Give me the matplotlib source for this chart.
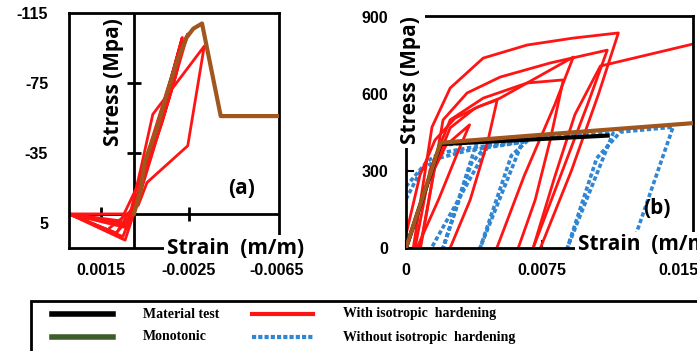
import matplotlib.pyplot as plt
from matplotlib.lines import Line2D
from matplotlib.patches import Rectangle

# ---- panel (a): compression side ----
mono_a_strain = [0, -0.0003, -0.0005, -0.00105, -0.0015, -0.00195, -0.0024, -0.0027, -0.0031, -0.00395, -0.0066]
mono_a_stress = [0, -13, -30, -49, -69, -87, -101, -106, -109, -56, -56]

red_a = [
    ([0.00295, 0, -0.0003, -0.0007, -0.0013, -0.0019, -0.0022, -0.00245, -0.0019, -0.0012, -0.0006, -0.0002, 0.0004, 0.00295],
     [0, 0, -13, -31, -53, -79, -97, -103, -79, -50, -28, -8, 15, 0]),
    ([0.00295, 0.0008, 0.0002, -0.0004, -0.001, -0.0016, -0.0022, -0.0017, -0.0009, -0.0003, 0.0003, 0.00295],
     [0, 11, 2, -20, -45, -73, -99, -70, -38, -14, 8, 0]),
    ([0.0011, -0.0002, -0.0006, -0.00245, -0.0032, -0.00086, -0.0003, 0.0003, 0.00295],
     [8, -5, -18, -39, -96, -57, -25, 7, 0]),
    ([0.00295, 0.0005, 0.0001, -0.0005, -0.0011, -0.0017, -0.0022, -0.0007, -0.0001, 0.0008, 0.00295],
     [0, 13, 0, -25, -50, -78, -101, -32, -7, 11, 0]),
    ([0.00295, 0.0003, -0.0002, -0.0008, -0.0014, -0.002, -0.0013, -0.0008, -0.0002, 0.0006, 0.00295],
     [0, 6, -8, -33, -58, -90, -62, -42, -17, 4, 0]),
]
a_yticks = [-115, -75, -35, 5]
a_xticks = [0.0015, -0.0025, -0.0065]
a_xticklabels = ['0.0015', '-0.0025', '-0.0065']

# ---- panel (b): tension side ----
mono_b_strain = [0, 0.0019, 0.0085, 0.0159]
mono_b_stress = [0, 410, 447, 487]
test_b_strain = [0, 0.0019, 0.0111]
test_b_stress = [0, 405, 438]

red_b = [
    ([0, 0.0011, 0.0022, 0.0035, 0.0029, 0.0018, 0.0006], [0, 240, 400, 480, 382, 190, 0]),
    ([0.00006, 0.00077, 0.0016, 0.0027, 0.00408, 0.00502, 0.00452, 0.00353, 0.00243],
     [70, 284, 421, 506, 553, 577, 421, 187, 0]),
    ([0.0005, 0.00132, 0.00243, 0.00425, 0.00667, 0.00866, 0.00794, 0.00711, 0.00618],
     [0, 304, 499, 584, 643, 655, 421, 187, 0]),
    ([0.00077, 0.0016, 0.00243, 0.0038, 0.00518, 0.00921, 0.0082, 0.0065, 0.005],
     [0, 323, 468, 545, 584, 744, 560, 280, 0]),
    ([0.0008, 0.00204, 0.00336, 0.00518, 0.00794, 0.01108, 0.01, 0.0085, 0.007],
     [0, 499, 604, 666, 721, 771, 560, 280, 0]),
    ([0.0004, 0.00143, 0.00243, 0.00425, 0.00667, 0.00921, 0.01169, 0.0106, 0.0091, 0.0074],
     [0, 471, 623, 740, 791, 818, 838, 600, 300, 0]),
    ([0.007, 0.0082, 0.0093, 0.0107, 0.01605], [0, 280, 520, 709, 799]),
]
blue_b = [
    ([0, 0.0019, 0.0039, 0.00204, 0.0036, 0.0045, 0.00645, 0.00408, 0.0058, 0.0068, 0.0114,
      0.00888, 0.0105, 0.0118, 0.0147, 0.0124],
     [0, 400, 413, 0, 330, 405, 421, 0, 360, 425, 448, 0, 350, 452, 471, 0]),
    ([0, 0.0008, 0.0018, 0.0034, 0.0065], [190, 300, 350, 380, 413]),
    ([0, 0.0012, 0.0019, 0.0034, 0.0065], [240, 340, 370, 390, 413]),
    ([0.0045, 0.0029, 0.0014], [395, 190, 0]),
]
b_yticks = [0, 300, 600, 900]
b_xticks = [0, 0.0075, 0.015]
b_xticklabels = ['0', '0.0075', '0.015']

RED = '#ff1414'
BLUE = '#3186d2'
BROWN = '#a0561c'
GREEN = '#3d5e2a'
lab_font = dict(family='Open Sans', weight='bold', size=15)
tick_font = dict(family='Liberation Sans', weight='bold', size=11.5)

fig = plt.figure(figsize=(6.97, 3.51), dpi=100)

# panel (a)
axa = fig.add_axes([69 / 697, 1 - 248 / 351, 210 / 697, 235 / 351])
axa.axhline(0, color='black', lw=2, zorder=1)
axa.axvline(0, color='black', lw=2, zorder=1)
for xs, ys in red_a:
    axa.plot(xs, ys, color=RED, lw=2, zorder=2)
axa.plot(mono_a_strain, mono_a_stress, color=BROWN, lw=3, zorder=3)
axa.plot(a_xticks[:2], [0, 0], ls='none', marker='|', ms=10, mew=2, color='black', zorder=1)
axa.plot([0, 0], a_yticks[1:3], ls='none', marker='_', ms=10, mew=2, color='black', zorder=1)
axa.set_xlim(0.00295, -0.0066)
axa.set_ylim(19.5, -115)
axa.set_yticks(a_yticks)
axa.set_yticklabels([str(v) for v in a_yticks], **tick_font)
axa.set_xticks(a_xticks)
axa.set_xticklabels(a_xticklabels, **tick_font)
axa.tick_params(length=0)
axa.tick_params(axis='y', pad=15)
axa.tick_params(axis='x', pad=11)
for s in axa.spines.values():
    s.set_linewidth(2)
axa.text(0.21, 0.706, 'Stress (Mpa)', rotation=90, ha='center', va='center', transform=axa.transAxes,
         bbox=dict(fc='white', ec='none', pad=1), zorder=5, **lab_font)
axa.text(0.467, 0.0, 'Strain  (m/m)', ha='left', va='center', transform=axa.transAxes,
         bbox=dict(fc='white', ec='none', pad=2), zorder=5, clip_on=False, **lab_font)
axa.text(0.824, 0.255, '(a)', ha='center', va='center', transform=axa.transAxes, **lab_font)

# panel (b)
axb = fig.add_axes([406 / 697, 1 - 248 / 351, 287 / 697, 232 / 351])
for xs, ys in blue_b:
    axb.plot(xs, ys, color=BLUE, lw=2.6, ls=(0, (1.2, 0.7)), zorder=1)
for xs, ys in red_b:
    axb.plot(xs, ys, color=RED, lw=2, zorder=2)
axb.plot(test_b_strain, test_b_stress, color='black', lw=3, zorder=3)
axb.plot(mono_b_strain, mono_b_stress, color=BROWN, lw=3, zorder=4)
axb.set_xlim(0, 0.0158)
axb.set_ylim(0, 904)
axb.set_yticks(b_yticks)
axb.set_yticklabels([str(v) for v in b_yticks], **tick_font)
axb.set_xticks(b_xticks)
axb.set_xticklabels(b_xticklabels, **tick_font)
axb.tick_params(direction='in', length=6, width=1.5)
axb.tick_params(axis='y', pad=13)
axb.tick_params(axis='x', pad=11)
for s in axb.spines.values():
    s.set_linewidth(2)
axb.text(0.014, 0.724, 'Stress (Mpa)', rotation=90, ha='center', va='center', transform=axb.transAxes,
         bbox=dict(fc='white', ec='none', pad=3), zorder=5, clip_on=False, **lab_font)
axb.text(0.599, 0.013, 'Strain  (m/m)', ha='left', va='center', transform=axb.transAxes,
         bbox=dict(fc='white', ec='none', pad=2), zorder=5, clip_on=False, **lab_font)
axb.text(0.875, 0.172, '(b)', ha='center', va='center', transform=axb.transAxes, **lab_font)

# legend box
fig.add_artist(Rectangle((31 / 697, -0.05), 1.1, 0.05 + 1 - 301 / 351, transform=fig.transFigure,
                         fill=False, ec='black', lw=2))
leg_font = dict(family='Liberation Serif', weight='bold', size=10)
legend_items = [
    ('Material test', 52, 314, dict(color='black', lw=4)),
    ('Monotonic', 52, 337, dict(color=GREEN, lw=4)),
    ('With isotropic  hardening', 252, 314, dict(color=RED, lw=3)),
    ('Without isotropic  hardening', 252, 337, dict(color=BLUE, lw=3, ls=(0, (1, 0.5)))),
]
for label, x0, y0, style in legend_items:
    yf = 1 - y0 / 351
    fig.add_artist(Line2D([x0 / 697, (x0 + 61) / 697], [yf, yf], transform=fig.transFigure, **style))
    fig.text((x0 + 91) / 697, yf, label, ha='left', va='center', **leg_font)

fig.savefig('out.png', dpi=100)
